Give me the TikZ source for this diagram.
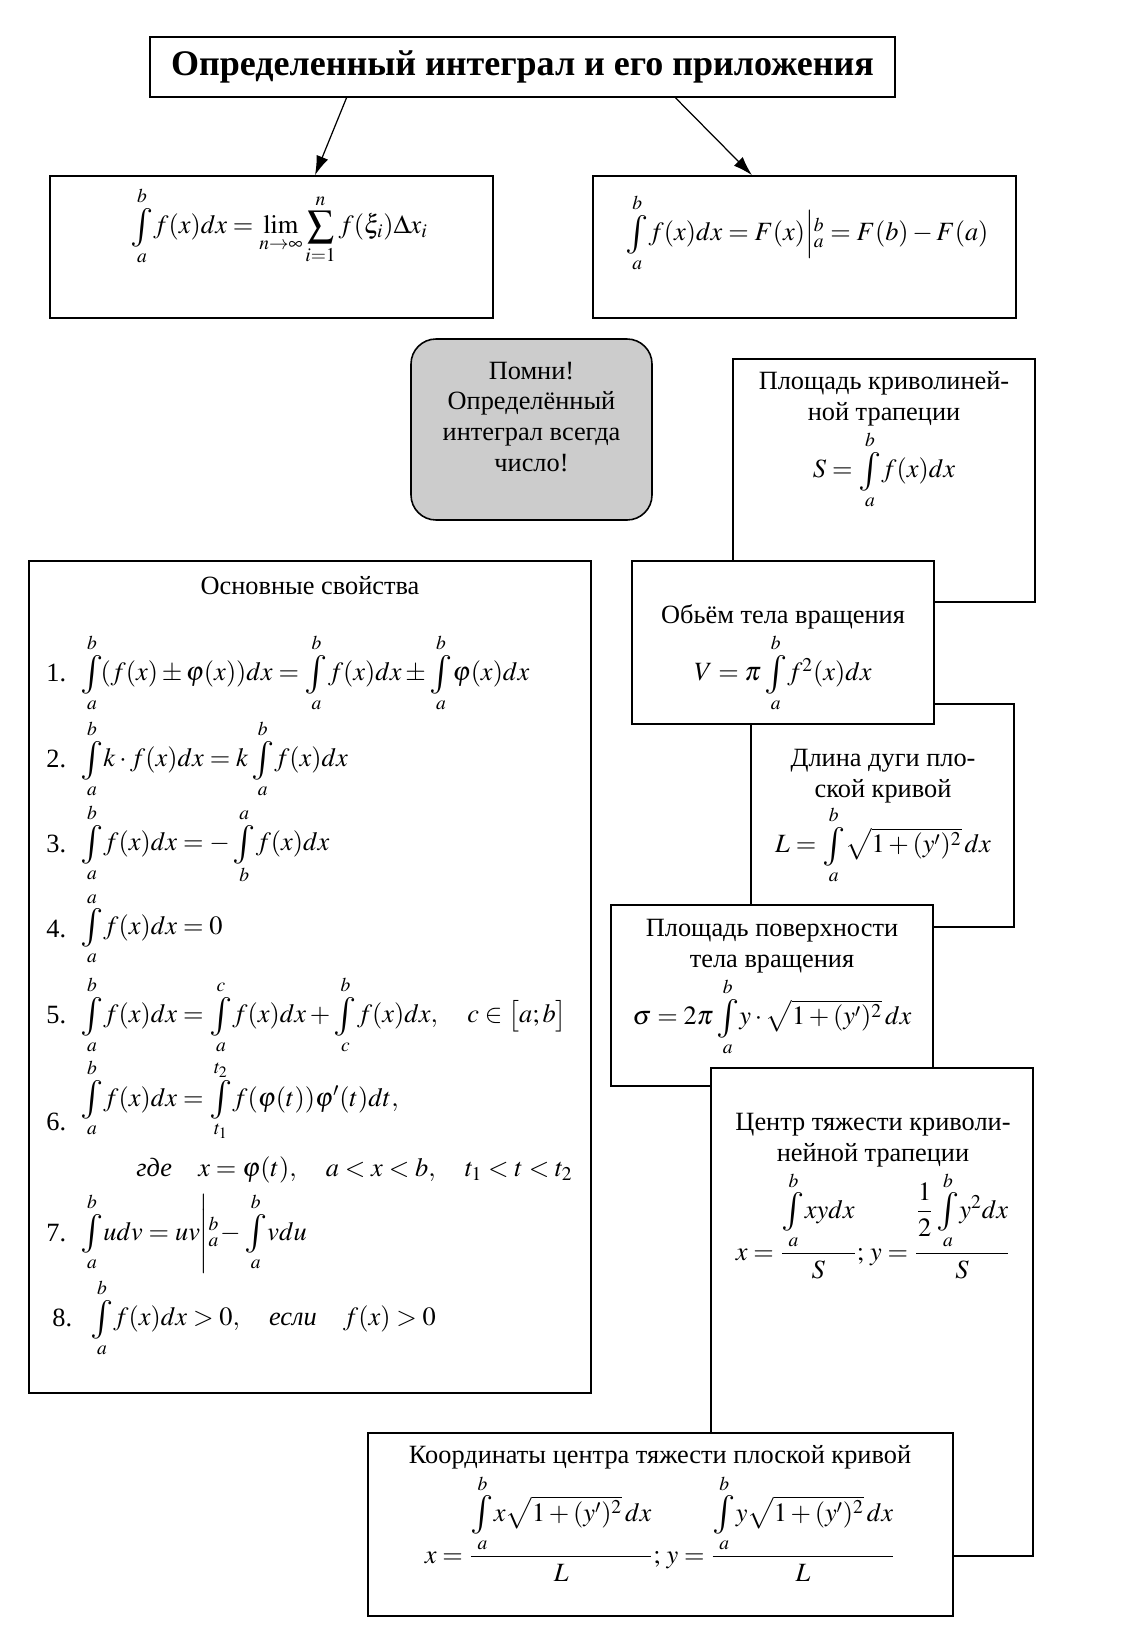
\documentclass[tikz,border=0pt]{standalone}
\usepackage{amsmath}
\usepackage{mathptmx}
\usepackage{fontspec}
\setmainfont{Liberation Serif}
\usetikzlibrary{arrows.meta}
\newcommand{\intab}[2]{\mathop{\vcenter{\hbox{\fontsize{22}{22}\selectfont$\int$}}}\limits_{#1}^{#2}\!}
\tikzset{
  panel/.style 2 args={draw,line width=0.9pt,fill=white,inner sep=0pt,
    minimum width=#1*0.02cm,minimum height=#2*0.02cm},
  body/.style={font=\fontsize{15}{17.6}\selectfont,align=center,inner sep=1pt},
  prop/.style={font=\fontsize{15}{17.6}\selectfont,anchor=west,inner sep=0pt},
  link/.style={-{Latex[length=11pt,width=7pt]},line width=0.7pt}
}

\begin{document}
\begin{tikzpicture}[x=0.02cm,y=-0.02cm]
  \useasboundingbox (0,0) rectangle (1124,1646);
  % title and the two definitions
  \node[panel={745}{60},font=\bfseries\fontsize{20.5}{25}\selectfont] (title) at (522.5,67)
    {Определенный интеграл и его приложения};
  \node[panel={443}{142}] (riemann) at (271.5,247) {};
  \node[panel={423}{142}] (newton) at (804.5,247) {};
  \node[body] (riemannf) at (279,226)
    {$\intab{a}{b}f(x)dx=\lim\limits_{n\to\infty}\displaystyle\sum\limits_{i=1}^{n}f(\xi_i)\Delta x_i$};
  \node[body] (newtonf) at (807,233)
    {$\intab{a}{b}f(x)dx=F(x)\Big|{}^{b}_{a}=F(b)-F(a)$};
  \draw[link] ([xshift=-3.52cm]title.south) -- ([xshift=0.87cm]riemann.north);
  \draw[link] ([xshift=3.06cm]title.south) -- ([xshift=-1.05cm]newton.north);

  % reminder
  \node[panel={241}{181},rounded corners=0.5cm,fill=black!20] (memo) at (531.5,429.5) {};
  \node[body] (memot) at (531.5,417) {Помни!\\Определённый\\интеграл всегда\\число!};

  % basic properties
  \node[panel={562}{832}] (props) at (310,977) {};
  \node[body] (propst) at (310,586) {Основные свойства};
  \foreach \n/\y in {1/673,2/759,3/844,4/929,5/1015,6/1122,7/1233}
    \node[prop] (num\n) at (46,\y) {\n.};
  \node[prop] (num8) at (52,1318) {8.};
  \node[prop] (p1) at (80,673)
    {$\intab{a}{b}(f(x)\pm\varphi(x))dx=\intab{a}{b}f(x)dx\pm\intab{a}{b}\varphi(x)dx$};
  \node[prop] (p2) at (80,759) {$\intab{a}{b}k\cdot f(x)dx=k\intab{a}{b}f(x)dx$};
  \node[prop] (p3) at (80,844) {$\intab{a}{b}f(x)dx=-\intab{b}{a}f(x)dx$};
  \node[prop] (p4) at (80,929) {$\intab{a}{a}f(x)dx=0$};
  \node[prop] (p5) at (80,1015)
    {$\intab{a}{b}f(x)dx=\intab{a}{c}f(x)dx+\intab{c}{b}f(x)dx,\quad c\in\bigl[a;b\bigr]$};
  \node[prop] (p6) at (80,1100)
    {$\intab{a}{b}f(x)dx=\intab{t_1}{t_2}f(\varphi(t))\varphi'(t)dt,$};
  \node[prop] (p6w) at (136,1170)
    {$\textit{где}\quad x=\varphi(t),\quad a<x<b,\quad t_1<t<t_2$};
  \node[prop] (p7) at (80,1233) {$\intab{a}{b}udv=uv\Bigg|{}^{b}_{a}\!-\intab{a}{b}vdu$};
  \node[prop] (p8) at (90,1318)
    {$\intab{a}{b}f(x)dx>0,\quad\textit{если}\quad f(x)>0$};

  % applications
  \node[panel={302}{243}] (area) at (884,480.5) {};
  \node[body] (areat) at (884,399) {Площадь криволиней-\\ной трапеции};
  \node[body] (areaf) at (884,470) {$S=\intab{a}{b}f(x)dx$};

  \node[panel={263}{223}] (arc) at (882.5,815.5) {};
  \node[body] (arct) at (883,776) {Длина дуги пло-\\ской кривой};
  \node[body] (arcf) at (883,845) {$L=\intab{a}{b}\sqrt{1+(y')^2}\,dx$};

  \node[panel={302}{163}] (volume) at (783,642.5) {};
  \node[body] (volumet) at (783,617) {Обьём тела вращения};
  \node[body] (volumef) at (783,673) {$V=\pi\intab{a}{b}f^2(x)dx$};

  \node[panel={322}{181}] (surface) at (772,995.5) {};
  \node[body] (surfacet) at (772,946) {Площадь поверхности\\тела вращения};
  \node[body] (surfacef) at (772,1017) {$\sigma=2\pi\intab{a}{b}y\cdot\sqrt{1+(y')^2}\,dx$};

  \node[panel={322}{488}] (centroid) at (872,1312) {};
  \node[body] (centroidt) at (873,1140) {Центр тяжести криволи-\\нейной трапеции};
  \node[body,anchor=base] (centroidf) at (873,1260)
    {$x=\dfrac{\intab{a}{b}xydx}{S};\,y=\dfrac{\dfrac{1}{2}\intab{a}{b}y^2dx}{S}$};

  \node[panel={585}{183}] (curvec) at (660.5,1524.5) {};
  \node[body] (curvect) at (660,1457) {Координаты центра тяжести плоской кривой};
  \node[body,anchor=base] (curvecf) at (660,1563)
    {$x=\dfrac{\intab{a}{b}x\sqrt{1+(y')^2}\,dx}{L};\,y=\dfrac{\intab{a}{b}y\sqrt{1+(y')^2}\,dx}{L}$};
\end{tikzpicture}
\end{document}
